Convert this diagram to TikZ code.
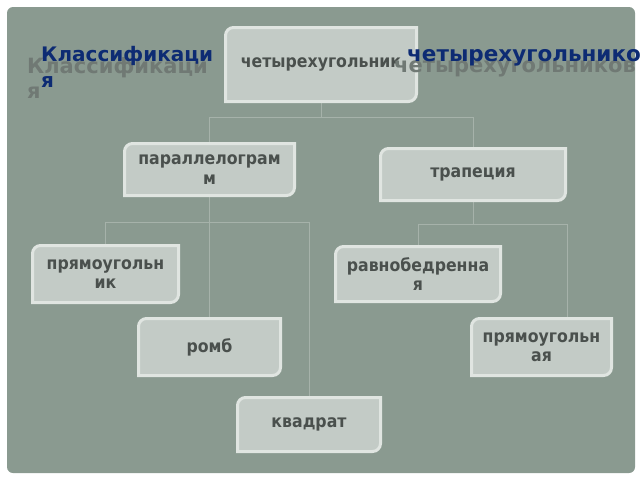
\documentclass[tikz,border=0pt]{standalone}
\usepackage{fontspec}
\setmainfont{DejaVu Sans}
\newfontfamily\boxfont{DejaVu Sans Condensed}
\usetikzlibrary{calc,backgrounds}
\definecolor{panel}{HTML}{8A9A90}
\definecolor{boxfill}{HTML}{C3CBC6}
\definecolor{boxline}{HTML}{E0E5E1}
\definecolor{boxtext}{HTML}{4A504D}
\definecolor{conncol}{HTML}{A6B2AA}
\definecolor{titleblue}{HTML}{0D2B73}
\definecolor{titleshadow}{HTML}{707974}
\newcommand\quadshape[1]{%
  \draw[boxborder] (#1.south west) -- ([yshift=-8pt]#1.north west)
    arc[start angle=180,end angle=90,radius=8pt] -- (#1.north east)
    -- ([yshift=8pt]#1.south east)
    arc[start angle=0,end angle=-90,radius=8pt] -- cycle;}
\begin{document}
\begin{tikzpicture}[x=1pt,y=-1pt,
  quad/.style={rectangle, draw=none, inner sep=0pt, outer sep=0pt, align=center,
    text=boxtext, font=\boxfont\fontsize{17.5}{19.5}\selectfont\bfseries},
  boxborder/.style={draw=boxline, line width=3pt, fill=boxfill},
  conn/.style={draw=conncol, line width=1pt},
  titlefg/.style={anchor=base west, inner sep=0pt, text=titleblue,
    font=\fontsize{20}{25}\selectfont\bfseries},
  titlebg/.style={inner sep=0pt, text=titleshadow,
    font=\fontsize{21}{27}\selectfont\bfseries}]
\useasboundingbox (0,0) rectangle (640,480);
\clip (0,0) rectangle (640,480);

\node[quad, minimum width=191pt, minimum height=74pt] (top) at (321,64.5) {четырехугольник};
\node[quad, minimum width=170pt, minimum height=52pt] (par) at (209.5,169.5) {параллелограм\\м};
\node[quad, minimum width=185pt, minimum height=52pt] (trap) at (473,174.5) {трапеция};
\node[quad, minimum width=146pt, minimum height=57pt] (rect) at (105.5,274) {прямоугольн\\ик};
\node[quad, minimum width=165pt, minimum height=55pt] (isos) at (418,274) {равнобедренна\\я};
\node[quad, minimum width=142pt, minimum height=57pt] (romb) at (209.5,347) {ромб};
\node[quad, minimum width=140pt, minimum height=57pt] (rtri) at (541.5,347) {прямоугольн\\ая};
\node[quad, minimum width=143pt, minimum height=54pt] (sq) at (309,424.5) {квадрат};

\coordinate (j1) at ([yshift=-16pt]top.south);
\coordinate (j2) at ([yshift=-27pt]par.south);
\coordinate (j3) at ([yshift=-24pt]trap.south);
\coordinate (rtritop) at ([xshift=25.5pt]rtri.north);

\begin{scope}[on background layer]
  \fill[white] (0,0) rectangle (640,480);
  \fill[panel, rounded corners=6pt] (7,7) rectangle (635,473);
  \draw[conn] (top.south) -- (j1);
  \draw[conn] (j1) -| (par.north);
  \draw[conn] (j1) -| (trap.north);
  \draw[conn] (par.south) -- (romb.north);
  \draw[conn] (j2) -| (rect.north);
  \draw[conn] (j2) -| (sq.north);
  \draw[conn] (trap.south) -- (j3);
  \draw[conn] (j3) -| (isos.north);
  \draw[conn] (j3) -| (rtritop);
  \quadshape{top}
  \quadshape{par}
  \quadshape{trap}
  \quadshape{rect}
  \quadshape{isos}
  \quadshape{romb}
  \quadshape{rtri}
  \quadshape{sq}
\end{scope}

\node[titlebg, anchor=base west] (s1) at (27,73) {Классификаци};
\node[titlebg, anchor=base west] (s2) at (27,98) {я};
\node[titlebg, anchor=base east] (s3) at (636,72) {четырехугольников};
\node[titlefg] (t1) at (41,61) {Классификаци};
\node[titlefg] (t2) at (41,87) {я};
\node[titlefg, font=\fontsize{21.5}{25}\selectfont\bfseries] (t3) at (407,61) {четырехугольников};
\end{tikzpicture}
\end{document}
